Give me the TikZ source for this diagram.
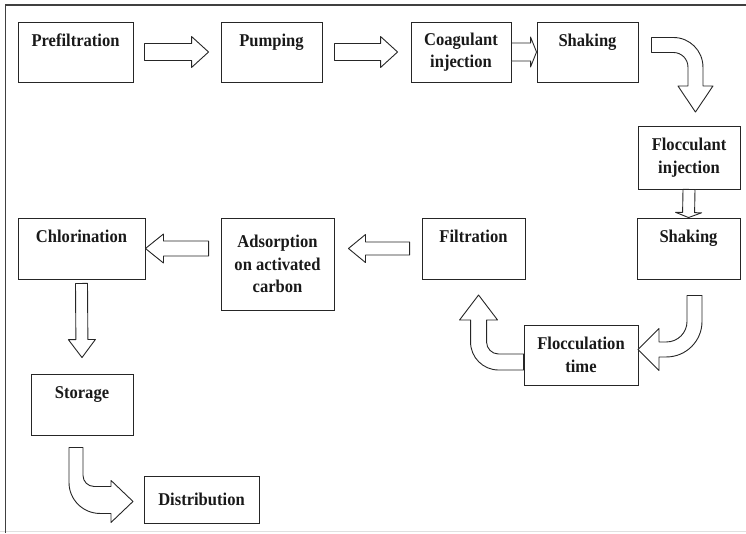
\documentclass[tikz,border=0pt]{standalone}
\usepackage{fontspec}
\setmainfont{Liberation Serif}[FakeStretch=0.92]
\usetikzlibrary{calc}

\begin{document}
\begin{tikzpicture}[x=1pt,y=-1pt,font=\fontsize{18}{22.5}\selectfont\bfseries,
      box/.style={draw=black!85,line width=0.9pt,inner sep=0pt,align=center,text=black!90},
      oneline/.style={text height=12pt,text depth=24pt},
      hollow/.style={draw=black!85,line width=0.9pt,fill=white,line join=round},
      blk/.style n args={3}{hollow,to path={let \p1=(\tikztostart), \p2=(\tikztotarget),
          \p3=($(\p2)!#3!(\p1)$) in
          ($(\p1)!#1!90:(\p2)$) -- ($(\p3)!#1!90:(\p2)$) -- ($(\p3)!#2!90:(\p2)$) -- (\p2)
          -- ($(\p3)!#2!-90:(\p2)$) -- ($(\p3)!#1!-90:(\p2)$) -- ($(\p1)!#1!-90:(\p2)$) -- cycle}}]
    \useasboundingbox (0,0) rectangle (746,533);
    % frame
    \draw[black!12] (0,531.5) -- (746,531.5);
    \draw[line width=1.6pt,black!75] (746,5) -- (5.5,5) -- (5.5,533);
    % stages
    \foreach \nm/\x/\y/\w/\h/\txt in {pre/75.5/52/115/60/Prefiltration,pump/271.5/52/101/60/Pumping,
        shk1/587.5/52/101/60/Shaking,filt/473.5/248.5/103/61/Filtration,shk2/688.5/248.5/103/61/Shaking,
        chlor/81.5/248.5/127/61/Chlorination,store/82/404.5/102/61/Storage}
      \node[box,oneline,minimum width=\w,minimum height=\h] (\nm) at (\x,\y) {\txt};
    \foreach \nm/\x/\y/\w/\h/\txt in {coag/461/52/100/60/{Coagulant\\injection},
        floc/689/157.5/102/63/{Flocculant\\injection},ads/277.5/264/113/92/{Adsorption\\on activated\\carbon},
        flocc/581/355/114/60/{Flocculation\\time},distr/201.5/499.5/115/47/Distribution}
      \node[box,minimum width=\w,minimum height=\h] (\nm) at (\x,\y) {\txt};
    % straight arrows
    \draw[blk={8.5pt}{15.5pt}{17pt}] ([xshift=11pt]pre.east) to ([xshift=-12pt]pump.west);
    \draw[blk={8.5pt}{15.5pt}{17pt}] ([xshift=12pt]pump.east) to ([xshift=-13pt]coag.west);
    \draw[blk={9pt}{15pt}{6pt}] (coag.east) to (shk1.west);
    \draw[blk={6pt}{13pt}{5pt}] (floc.south) to (shk2.north);
    \draw[blk={6.5pt}{14pt}{17pt}] ([xshift=-12pt]filt.west) to ($(ads.east |- filt.west)+(14,0)$);
    \draw[blk={7.5pt}{14.5pt}{18pt}] ($(ads.west |- chlor.east)+(-12,0)$) to (chlor.east);
    \draw[blk={6pt}{13.5pt}{18pt}] ([yshift=-4pt]chlor.south) to ([yshift=16pt]store.north);
    % bent arrows
    \draw[hollow] ([xshift=13pt,yshift=14.5pt]shk1.east) -- ++(22,0)
      arc[start angle=-90,end angle=0,radius=29.5] -- ++(0,19) -- ++(10,0) -- ++(-17.5,26)
      -- ++(-17.5,-26) -- ++(10,0) -- ++(0,-19) arc[start angle=0,end angle=-90,radius=14.5]
      -- ++(-22,0) -- cycle;
    \draw[hollow] ([xshift=-1.5pt,yshift=-16pt]shk2.south) -- ++(15,0) -- ++(0,26)
      arc[start angle=0,end angle=90,radius=35.5] -- ++(-7.5,0) -- ++(0,13.5) -- ++(-21,-21)
      -- ++(21,-21) -- ++(0,13.5) -- ++(7.5,0) arc[start angle=90,end angle=0,radius=20.5] -- cycle;
    \draw[hollow] ([yshift=1pt]flocc.west) -- ++(-25,0) arc[start angle=90,end angle=180,radius=12]
      -- ++(0,-22) -- ++(11,0) -- ++(-19,-25) -- ++(-19,25) -- ++(11,0) -- ++(0,22)
      arc[start angle=180,end angle=90,radius=28] -- ++(25,0) -- cycle;
    \draw[hollow] ([xshift=-13pt,yshift=-12pt]store.south) -- ++(14,0) -- ++(0,28)
      arc[start angle=180,end angle=90,radius=11] -- ++(17,0) -- ++(0,-6) -- ++(22,21)
      -- ++(-22,21) -- ++(0,-9) -- ++(-11,0) arc[start angle=90,end angle=180,radius=31] -- cycle;
  \end{tikzpicture}
\end{document}
